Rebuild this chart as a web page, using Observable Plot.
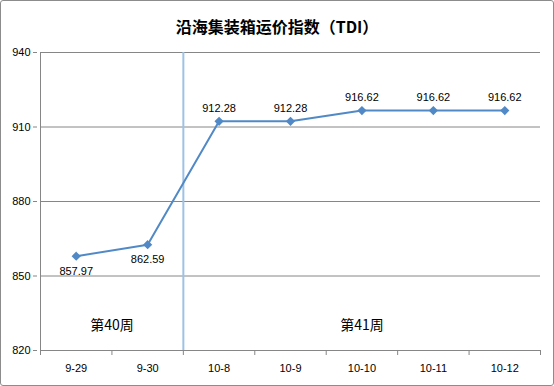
<!DOCTYPE html>
<html><head><meta charset="utf-8">
<script src="https://cdn.jsdelivr.net/npm/d3@7"></script>
<script src="https://cdn.jsdelivr.net/npm/@observablehq/plot@0.6"></script>
<style>
body{margin:0;background:#fff;}
#wrap{position:relative;width:554px;height:386px;}
#title{position:absolute;left:0;top:14px;width:554px;text-align:center;font:bold 16px "Noto Sans CJK SC",sans-serif;color:#000;}
#border{position:absolute;left:0;top:0;width:552px;height:384px;border:1px solid #8c8c8c;border-radius:3px;pointer-events:none;}
</style></head>
<body>
<div id="wrap"><div id="chart"></div><div id="title">沿海集装箱运价指数（TDI）</div><div id="border"></div></div>
<script>
const categories = ["9-29","9-30","10-8","10-9","10-10","10-11","10-12"];
const values = [857.97, 862.59, 912.28, 912.28, 916.62, 916.62, 916.62];
const yTicks = [820, 850, 880, 910, 940];
const weekLabels = ["第40周","第41周"];
const weekCenters = [0.5, 4];
const weekSplit = [1.5];

const data = categories.map((c,i)=>({i, c, v: values[i]}));
const below = data.filter(d=>d.i<2);
const above = data.filter(d=>d.i>=2);
const boundaries = d3.range(-0.5, categories.length, 1);
const blue = "#5189c6";
const font = "Liberation Sans, Arial, sans-serif";

const chart = Plot.plot({
  width: 554, height: 386,
  marginLeft: 40, marginRight: 14, marginTop: 52, marginBottom: 36,
  style: {fontFamily: font, fontSize: "11px", color: "#000", background: "transparent"},
  x: {type: "linear", domain: [-0.5, categories.length - 0.5]},
  y: {domain: [820, 940]},
  marks: [
    Plot.gridY(yTicks, {stroke: "#868686", strokeOpacity: 1, x1: -0.5, x2: categories.length - 0.5}),
    Plot.axisY({ticks: yTicks, tickSize: 4, stroke: "#868686", tickPadding: 3, fontSize: 11, label: null, dx: -3}),
    Plot.axisX({ticks: boundaries, tickSize: 5, tickFormat: () => "", stroke: "#868686", label: null}),
    Plot.axisX({ticks: d3.range(categories.length), tickSize: 0, tickPadding: 14, tickFormat: i => categories[i], fontSize: 11, label: null}),
    Plot.ruleX(weekSplit, {stroke: "#9cc2e5", strokeWidth: 2}),
    Plot.ruleX([-0.5], {stroke: "#868686"}),
    Plot.ruleY([820], {stroke: "#868686"}),
    Plot.lineY(data, {x: "i", y: "v", stroke: blue, strokeWidth: 2}),
    Plot.dot(data, {x: "i", y: "v", symbol: "diamond2", r: 3.2, fill: blue, stroke: blue}),
    Plot.text(below, {x: "i", y: "v", text: d => d.v.toFixed(2), dy: 15, fontSize: 11}),
    Plot.text(above, {x: "i", y: "v", text: d => d.v.toFixed(2), dy: -13, fontSize: 11}),
    Plot.text(weekLabels, {x: (d,i) => weekCenters[i], text: d => d, frameAnchor: "bottom", dy: -21, fontSize: 14, fontFamily: "Noto Sans CJK SC"})
  ]
});
document.getElementById("chart").appendChild(chart);
</script>
</body></html>
